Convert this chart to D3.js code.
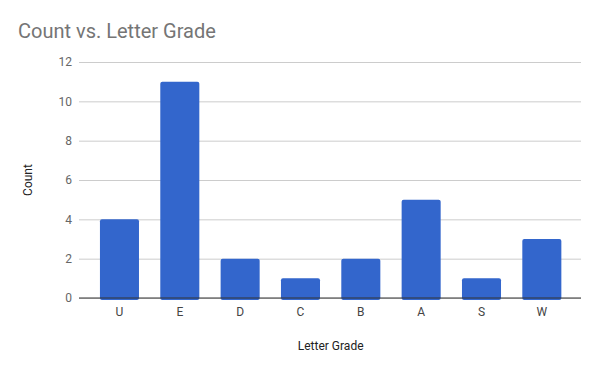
<!DOCTYPE html>
<html>
<head>
<meta charset="utf-8">
<script src="https://cdn.jsdelivr.net/npm/d3@7"></script>
<style>
  body { margin: 0; background: #fff; }
  text { font-family: Roboto, "Noto Sans", sans-serif; }
</style>
</head>
<body>
<div class="chart"></div>
<script>
const grades = ['U', 'E', 'D', 'C', 'B', 'A', 'S', 'W'];
const counts = [4, 11, 2, 1, 2, 5, 1, 3];
const yTicks = [0, 2, 4, 6, 8, 10, 12];

const width = 600;
const height = 371;
const margin = {top: 62, right: 19, bottom: 73, left: 79};

const svg = d3
  .select('.chart')
  .append('svg')
  .attr('width', width)
  .attr('height', height);

const x = d3
  .scaleBand()
  .domain(grades)
  .range([89.3, 572])
  .paddingInner(0.353)
  .paddingOuter(0.1765);

const y = d3
  .scaleLinear()
  .domain([0, 12])
  .range([height - margin.bottom, margin.top]);

// title
svg
  .append('text')
  .attr('x', 18)
  .attr('y', 38)
  .style('font-size', '20px')
  .attr('fill', '#757575')
  .text('Count vs. Letter Grade');

// grid + y labels
const yAxis = svg
  .append('g')
  .attr('transform', `translate(${margin.left},0)`)
  .call(
    d3
      .axisLeft(y)
      .tickValues(yTicks)
      .tickSize(-(width - margin.left - margin.right))
      .tickPadding(7),
  );
yAxis.select('.domain').remove();
yAxis.selectAll('line').attr('stroke', '#cccccc');
yAxis
  .selectAll('text')
  .attr('fill', '#666')
  .style('font-size', '12px');

// bars
svg
  .selectAll('.bar')
  .data(grades)
  .enter()
  .append('rect')
  .attr('class', 'bar')
  .attr('x', d => x(d))
  .attr('width', x.bandwidth())
  .attr('y', (d, i) => y(counts[i]))
  .attr('height', (d, i) => y(0) - y(counts[i]) + 2)
  .attr('rx', 2)
  .attr('fill', '#3366cc');

// x axis
const xAxis = svg
  .append('g')
  .attr('transform', `translate(0,${y(0)})`)
  .call(d3.axisBottom(x).tickSize(0).tickPadding(9));
xAxis.select('.domain').remove();
xAxis
  .selectAll('text')
  .attr('fill', '#444')
  .style('font-size', '12px');

svg
  .append('line')
  .attr('x1', margin.left)
  .attr('x2', width - margin.right)
  .attr('y1', y(0))
  .attr('y2', y(0))
  .attr('stroke', '#333')
  .attr('stroke-width', 1.2);

// axis titles
svg
  .append('text')
  .attr('transform', `translate(32,${(y(0) + y(12)) / 2}) rotate(-90)`)
  .attr('text-anchor', 'middle')
  .style('font-size', '12px')
  .attr('fill', '#222')
  .text('Count');

svg
  .append('text')
  .attr('x', (x.range()[0] + x.range()[1]) / 2)
  .attr('y', 350)
  .attr('text-anchor', 'middle')
  .style('font-size', '12px')
  .attr('fill', '#222')
  .text('Letter Grade');
</script>
</body>
</html>
